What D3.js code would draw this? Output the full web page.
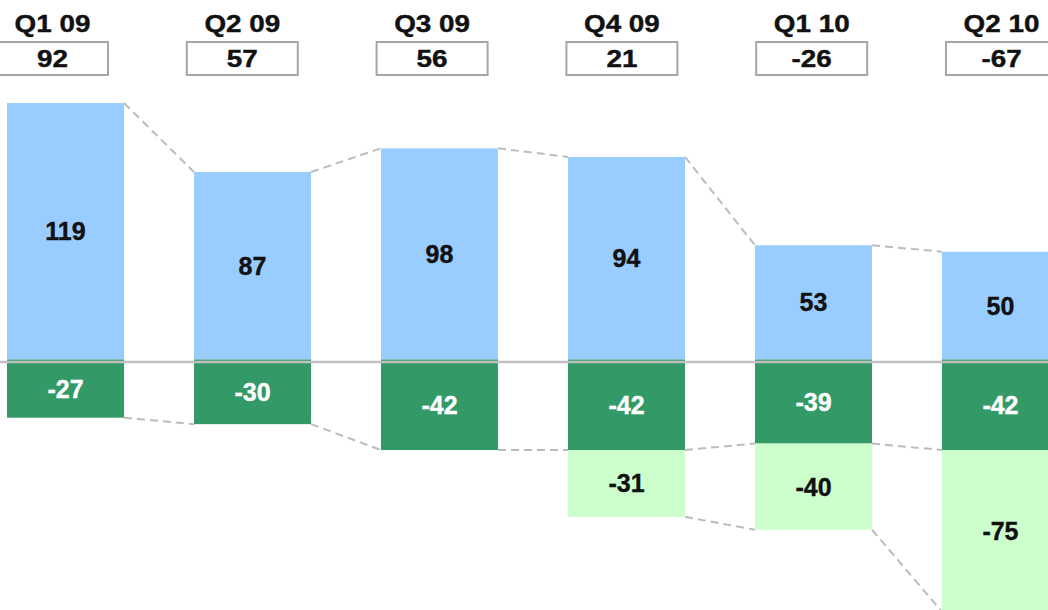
<!DOCTYPE html>
<html>
<head>
<meta charset="utf-8">
<script src="https://cdn.jsdelivr.net/npm/d3@7"></script>
<style>
  html, body { margin: 0; padding: 0; background: #fff; }
  svg { display: block; }
  text { font-family: "Liberation Sans", Arial, sans-serif; font-weight: bold; }
</style>
</head>
<body>
<div id="chart"></div>
<script>
// Quarterly contributions: positive block, core negative block, extra negative block
const quarters = ["Q1 09", "Q2 09", "Q3 09", "Q4 09", "Q1 10", "Q2 10"];
const positive = [119, 87, 98, 94, 53, 50];
const negativeCore = [-27, -30, -42, -42, -39, -42];
const negativeExtra = [0, 0, 0, -31, -40, -75];
const totals = [92, 57, 56, 21, -26, -67];

const W = 1048, H = 610;
const colors = { pos: "#99ccff", core: "#339966", extra: "#ccffcc" };

const svg = d3.select("#chart").append("svg")
  .attr("width", W).attr("height", H);

const x = d3.scaleBand()
  .domain(quarters)
  .range([7, 1059])
  .paddingInner(0.374)
  .paddingOuter(0);

const y = d3.scaleLinear()
  .domain([-120, 120])
  .range([359.5 + 120 * 2.155, 359.5 - 120 * 2.155]);

// Header row: quarter name and boxed net total
const hx = d3.scalePoint().domain(quarters).range([52.5, 1001.5]);
const boxW = 111, boxH = 33;

const header = svg.append("g").selectAll("g")
  .data(quarters)
  .join("g")
  .attr("transform", d => `translate(${hx(d)},0)`);

header.append("text")
  .attr("transform", "translate(0,31.5) scale(1.16,1)")
  .attr("text-anchor", "middle")
  .attr("font-size", 24)
  .attr("fill", "#111")
  .attr("stroke", "#111")
  .attr("stroke-width", 0.4)
  .text(d => d);

header.append("rect")
  .attr("x", -boxW / 2).attr("y", 42)
  .attr("width", boxW).attr("height", boxH)
  .attr("fill", "#fff")
  .attr("stroke", "#a6a6a6")
  .attr("stroke-width", 2);

header.append("text")
  .attr("transform", "translate(0,67) scale(1.16,1)")
  .attr("text-anchor", "middle")
  .attr("font-size", 24)
  .attr("fill", "#111")
  .attr("stroke", "#111")
  .attr("stroke-width", 0.4)
  .text((d, i) => totals[i]);

// Segment extents for each quarter
const segs = quarters.map((q, i) => {
  const coreEnd = negativeCore[i];
  const extraEnd = negativeCore[i] + negativeExtra[i];
  return [
    { q, i, kind: "pos", v0: 0, v1: positive[i], value: positive[i] },
    { q, i, kind: "core", v0: 0, v1: coreEnd, value: negativeCore[i] },
    { q, i, kind: "extra", v0: coreEnd, v1: extraEnd, value: negativeExtra[i] }
  ].filter(s => s.value !== 0);
}).flat();

// Dashed connectors between neighbouring bars
const links = [];
for (let i = 0; i < quarters.length - 1; i++) {
  const a = quarters[i], b = quarters[i + 1];
  links.push({ a, b, va: positive[i], vb: positive[i + 1] });
  links.push({ a, b, va: negativeCore[i], vb: negativeCore[i + 1] });
  if (negativeExtra[i] !== 0 && negativeExtra[i + 1] !== 0) {
    links.push({ a, b,
      va: negativeCore[i] + negativeExtra[i],
      vb: negativeCore[i + 1] + negativeExtra[i + 1] });
  }
}

svg.append("g").selectAll("line")
  .data(links)
  .join("line")
  .attr("x1", d => x(d.a) + x.bandwidth())
  .attr("x2", d => x(d.b))
  .attr("y1", d => y(d.va))
  .attr("y2", d => y(d.vb))
  .attr("stroke", "#bcbcbc")
  .attr("stroke-width", 2)
  .attr("stroke-dasharray", "8,5");

// Bars
svg.append("g").selectAll("rect")
  .data(segs)
  .join("rect")
  .attr("x", d => x(d.q))
  .attr("width", x.bandwidth())
  .attr("y", d => y(Math.max(d.v0, d.v1)))
  .attr("height", d => Math.abs(y(d.v0) - y(d.v1)))
  .attr("fill", d => colors[d.kind]);

// Zero line
svg.append("line")
  .attr("x1", 0).attr("x2", W)
  .attr("y1", y(0) + 2.5).attr("y2", y(0) + 2.5)
  .attr("stroke", "#c0c0c0")
  .attr("stroke-width", 2.5);

// Segment value labels
svg.append("g").selectAll("text")
  .data(segs)
  .join("text")
  .attr("x", d => x(d.q) + x.bandwidth() / 2)
  .attr("y", d => (y(d.v0) + y(d.v1)) / 2)
  .attr("dy", "0.36em")
  .attr("text-anchor", "middle")
  .attr("font-size", 25)
  .attr("fill", d => d.kind === "core" ? "#fff" : "#111")
  .attr("stroke", d => d.kind === "core" ? "#fff" : "#111")
  .attr("stroke-width", 0.4)
  .text(d => d.value);
</script>
</body>
</html>
